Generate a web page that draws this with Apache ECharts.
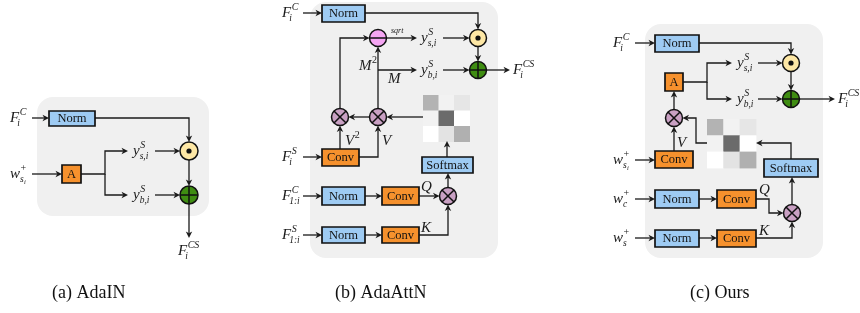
<!DOCTYPE html>
<html lang="en">
<head>
<meta charset="UTF-8">
<title>AdaIN / AdaAttN / Ours</title>
<style>
  html,body{margin:0;padding:0;background:#fff}
  #main{width:860px;height:313px}
</style>
<script src="https://cdn.jsdelivr.net/npm/echarts@6/dist/echarts.min.js"></script>
</head>
<body>
<div id="main"></div>
<script>
// gray panels [x0, y0, x1, y1]
const panels = [[37,97,209,216],[310,2,498,258],[645,24,823,258]];

// blocks [x0, y0, x1, y1, text, kind]
const boxes = [
  [49,111,95,126,'Norm','norm'], [62,165,81,183,'A','conv'],
  [322,5,365,22,'Norm','norm'], [322,149,359,166,'Conv','conv'], [422,157,473,173,'Softmax','norm'],
  [322,187,365,205,'Norm','norm'], [382,187,419,205,'Conv','conv'],
  [322,227,365,243,'Norm','norm'], [382,227,419,243,'Conv','conv'],
  [655,35,699,52,'Norm','norm'], [665,73,683,91,'A','conv'], [655,151,693,168,'Conv','conv'],
  [764,159,818,177,'Softmax','norm'], [655,190,699,208,'Norm','norm'], [717,190,756,208,'Conv','conv'],
  [655,230,699,247,'Norm','norm'], [717,230,756,247,'Conv','conv']
];

// operators [cx, cy, type, r]
const ops = [
  [189,151,'dot',9], [189,195,'plus',9],
  [478,38,'dot',8.5], [478,70,'plus',8.5], [378,38,'half',8.5],
  [340,117,'cross',8.5], [378,117,'cross',8.5], [448,196,'cross',8.5],
  [791,63,'dot',8.5], [791,99,'plus',8.5], [674,118,'cross',8.5], [792,213,'cross',8.5]
];

// arrows, polyline points, head at the last point
const arrows = [
  // (a)
  [[32,118],[49,118]], [[95,118],[189,118],[189,142]],
  [[32,174],[62,174]],
  [[81,174],[105,174],[105,151],[128,151]], [[105,174],[105,195],[128,195]],
  [[155,151],[180,151]], [[155,195],[180,195]],
  [[189,160],[189,186]], [[189,204],[189,238]],
  // (b)
  [[303,13],[322,13]], [[365,13],[478,13],[478,29.5]],
  [[478,46.5],[478,61.5]], [[486.5,70],[510,70]],
  [[386.5,38],[417,38]], [[378,70],[417,70]],
  [[443,38],[469.5,38]], [[443,70],[469.5,70]],
  [[378,108.5],[378,46.5]], [[340,108.5],[340,38],[369.5,38]],
  [[423,117],[386.5,117]], [[369.5,117],[348.5,117]],
  [[303,157],[322,157]], [[340,149],[340,125.5]], [[359,157],[378,157],[378,125.5]],
  [[447,157],[447,141]],
  [[303,196],[322,196]], [[365,196],[382,196]], [[419,196],[439.5,196]], [[448,187.5],[448,173]],
  [[303,235],[322,235]], [[365,235],[382,235]], [[419,235],[448,235],[448,204.5]],
  // (c)
  [[635,43],[655,43]], [[699,43],[791,43],[791,54.5]],
  [[791,71.5],[791,90.5]], [[799.5,99],[835,99]],
  [[683,82],[707,82],[707,63],[732,63]], [[707,82],[707,99],[732,99]],
  [[758,63],[782.5,63]], [[758,99],[782.5,99]],
  [[674,109.5],[674,91]],
  [[707,143],[696,143],[696,118],[682.5,118]],
  [[791,159],[791,143],[756,143]],
  [[674,151],[674,126.5]], [[635,160],[655,160]],
  [[635,199],[655,199]], [[699,199],[717,199]], [[756,199],[769,199],[769,213],[783.5,213]],
  [[792,204.5],[792,177]],
  [[635,238],[655,238]], [[699,238],[717,238]], [[756,238],[792,238],[792,221.5]]
];

// attention maps [x0, y0, cell size] and their gray levels
const heatmaps = [[423,95,15.5],[707,119,16.3]];
const heatCells = [[0.70,0.95,0.90],[0.95,0.42,1.0],[1.0,0.89,0.69]];

// math labels [x, y, base, sup, sub, subsub]
const mathLabels = [
  [10,118,'F','C','i'], [10,174,'w','+','s','i'], [133,151,'y','S','s,i'], [133,195,'y','S','b,i'], [178,251,'F','CS','i'],
  [282,13,'F','C','i'], [513,70,'F','CS','i'], [421,38,'y','S','s,i'], [421,70,'y','S','b,i'],
  [359,66,'M','2',''], [388,79,'M','',''], [345,141,'V','2',''], [382,141,'V','',''],
  [282,157,'F','S','i'], [282,196,'F','C','1:i'], [282,235,'F','S','1:i'], [421,187,'Q','',''], [421,228,'K','',''],
  [613,43,'F','C','i'], [838,99,'F','CS','i'], [737,63,'y','S','s,i'], [737,99,'y','S','b,i'],
  [677,143,'V','',''], [613,160,'w','+','s','i'], [613,199,'w','+','c'], [613,238,'w','+','s'],
  [759,190,'Q','',''], [759,231,'K','','']
];
const smallLabels = [[391,31,'sqrt']];
const captions = [[52,293,'(a) AdaIN'],[335,293,'(b) AdaAttN'],[690,293,'(c) Ours']];

const boxFill = {norm:'#9ecbf3', conv:'#f6912d'};
const opFill = {dot:'#fde7a5', plus:'#3f8d12', cross:'#c9a0c3', half:'#f4a5f2'};
const INK = '#1a1a1a';
const SERIF = '"Liberation Serif", "DejaVu Serif", serif';

const ctx = document.createElement('canvas').getContext('2d');
function textWidth(t, font){ ctx.font = font; return ctx.measureText(t).width; }

function renderPanel(params, api){
  const p = panels[params.dataIndex];
  const a = api.coord([p[0],p[1]]), b = api.coord([p[2],p[3]]);
  return {type:'rect', shape:{x:a[0],y:a[1],width:b[0]-a[0],height:b[1]-a[1],r:16}, style:{fill:'#f0f0f0'}};
}

function renderArrow(params, api){
  const pts = arrows[params.dataIndex].map(p => api.coord(p));
  const n = pts.length, a = pts[n-2], b = pts[n-1];
  const dx = b[0]-a[0], dy = b[1]-a[1], L = Math.hypot(dx,dy), ux = dx/L, uy = dy/L;
  const hl = 6.5, hw = 3.2;
  const bx = b[0]-ux*hl, by = b[1]-uy*hl;
  const notch = [b[0]-ux*hl*0.72, b[1]-uy*hl*0.72];
  const linePts = pts.slice(0, n-1).concat([notch]);
  return {type:'group', children:[
    {type:'polyline', shape:{points:linePts}, style:{stroke:INK, lineWidth:1.3, fill:null}},
    {type:'polygon', shape:{points:[b,[bx-uy*hw,by+ux*hw],notch,[bx+uy*hw,by-ux*hw]]}, style:{fill:INK}}
  ]};
}

function renderBox(params, api){
  const b = boxes[params.dataIndex];
  const a = api.coord([b[0],b[1]]), c = api.coord([b[2],b[3]]);
  return {type:'group', children:[
    {type:'rect', shape:{x:a[0],y:a[1],width:c[0]-a[0],height:c[1]-a[1]}, style:{fill:boxFill[b[5]], stroke:'#111', lineWidth:1.7}},
    {type:'text', style:{text:b[4], x:(a[0]+c[0])/2, y:(a[1]+c[1])/2+0.5, align:'center', verticalAlign:'middle',
      font:'12.5px ' + SERIF, fill:'#111'}}
  ]};
}

function renderOp(params, api){
  const o = ops[params.dataIndex];
  const c = api.coord([o[0],o[1]]);
  const r = api.size([o[3],0])[0];
  const kids = [{type:'circle', shape:{cx:c[0],cy:c[1],r:r}, style:{fill:opFill[o[2]], stroke:'#111', lineWidth:1.5}}];
  const ln = (x1,y1,x2,y2) => ({type:'line', shape:{x1:x1,y1:y1,x2:x2,y2:y2}, style:{stroke:'#111', lineWidth:1.5}});
  if (o[2] === 'dot') kids.push({type:'circle', shape:{cx:c[0],cy:c[1],r:2.6}, style:{fill:'#111'}});
  if (o[2] === 'plus') { kids.push(ln(c[0]-r,c[1],c[0]+r,c[1])); kids.push(ln(c[0],c[1]-r,c[0],c[1]+r)); }
  if (o[2] === 'half') kids.push(ln(c[0]-r,c[1],c[0]+r,c[1]));
  if (o[2] === 'cross') {
    const d = r*0.707;
    kids.push(ln(c[0]-d,c[1]-d,c[0]+d,c[1]+d)); kids.push(ln(c[0]-d,c[1]+d,c[0]+d,c[1]-d));
  }
  return {type:'group', children:kids};
}

function renderCell(params, api){
  const hm = heatmaps[api.value(2)];
  const col = api.value(0), row = api.value(1);
  const a = api.coord([hm[0]+col*hm[2], hm[1]+row*hm[2]]);
  const s = api.size([hm[2],hm[2]]);
  const g = Math.round(heatCells[row][col]*255);
  return {type:'rect', shape:{x:a[0],y:a[1],width:s[0]+0.5,height:s[1]+0.5}, style:{fill:'rgb('+g+','+g+','+g+')'}};
}

function renderMath(params, api){
  const m = mathLabels[params.dataIndex];
  const p = api.coord([m[0],m[1]]);
  const baseFont = 'italic 15px ' + SERIF;
  const w = textWidth(m[2], baseFont);
  const upright = t => /^[0-9+]+$/.test(t);
  const kids = [{type:'text', style:{text:m[2], x:p[0], y:p[1], align:'left', verticalAlign:'middle', font:baseFont, fill:INK}}];
  if (m[3]) kids.push({type:'text', style:{text:m[3], x:p[0]+w+0.5, y:p[1]-6, align:'left', verticalAlign:'middle',
    font:(upright(m[3]) ? '' : 'italic ') + '10px ' + SERIF, fill:INK}});
  if (m[4]) {
    const subFont = 'italic 9.5px ' + SERIF;
    const sx = p[0]+w-(m[2]==='F'?2:0);
    kids.push({type:'text', style:{text:m[4], x:sx, y:p[1]+5.5, align:'left', verticalAlign:'middle', font:subFont, fill:INK}});
    if (m[5]) kids.push({type:'text', style:{text:m[5], x:sx+textWidth(m[4],subFont)+0.3, y:p[1]+8, align:'left',
      verticalAlign:'middle', font:'italic 6.5px ' + SERIF, fill:INK}});
  }
  return {type:'group', children:kids};
}

function renderSmall(params, api){
  const s = smallLabels[params.dataIndex];
  const p = api.coord([s[0],s[1]]);
  return {type:'text', style:{text:s[2], x:p[0], y:p[1], align:'left', verticalAlign:'middle', font:'italic 8px ' + SERIF, fill:INK}};
}

function renderCaption(params, api){
  const s = captions[params.dataIndex];
  const p = api.coord([s[0],s[1]]);
  return {type:'text', style:{text:s[2], x:p[0], y:p[1], align:'left', verticalAlign:'middle', font:'18px ' + SERIF, fill:'#111'}};
}

const cellData = [];
heatmaps.forEach((hm, h) => heatCells.forEach((row, r) => row.forEach((v, c) => cellData.push([c, r, h]))));

const chart = echarts.init(document.getElementById('main'), null, {renderer:'canvas'});
const first = arr => arr.map(p => [p[0], p[1]]);
chart.setOption({
  animation:false,
  grid:{left:0,right:0,top:0,bottom:0},
  xAxis:{type:'value', min:0, max:860, show:false},
  yAxis:{type:'value', min:0, max:313, inverse:true, show:false},
  series:[
    {type:'custom', z:1, renderItem:renderPanel, data:first(panels), silent:true},
    {type:'custom', z:2, renderItem:renderCell, data:cellData, silent:true,
      encode:{x:-1, y:-1}},
    {type:'custom', z:3, renderItem:renderArrow, data:arrows.map(a => a[0]), silent:true},
    {type:'custom', z:4, renderItem:renderBox, data:first(boxes), silent:true},
    {type:'custom', z:4, renderItem:renderOp, data:first(ops), silent:true},
    {type:'custom', z:5, renderItem:renderMath, data:first(mathLabels), silent:true},
    {type:'custom', z:5, renderItem:renderSmall, data:first(smallLabels), silent:true},
    {type:'custom', z:5, renderItem:renderCaption, data:first(captions), silent:true}
  ]
});
</script>
</body>
</html>
